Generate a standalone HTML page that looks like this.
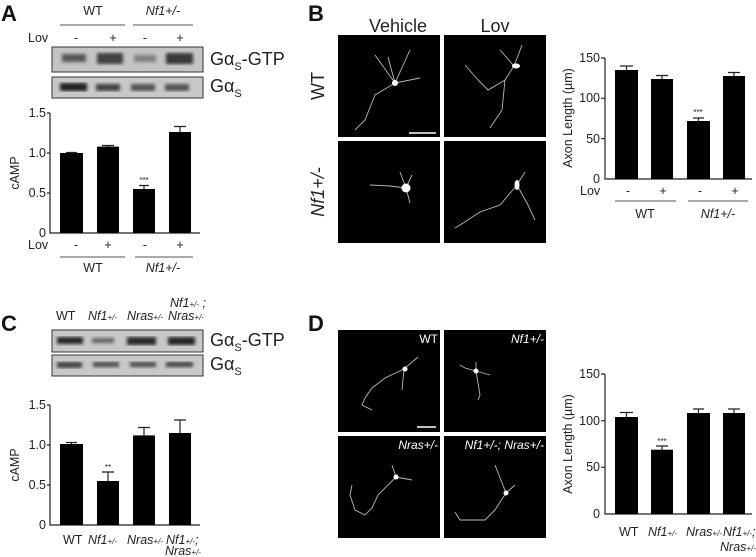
<!DOCTYPE html>
<html><head><meta charset="utf-8"><style>
html,body{margin:0;padding:0;background:#fff;}
svg{display:block;font-family:"Liberation Sans",Arial,sans-serif;}
.t{font-size:12.5px;fill:#222;}
.i{font-style:italic;}
.big{font-size:18px;fill:#222;}
.L{font-size:22px;font-weight:bold;fill:#111;}
.ax{stroke:#222;stroke-width:1.2;fill:none;}
.gl{stroke:#555;stroke-width:1;}
.n{stroke:#bbb;fill:none;stroke-width:0.9;}
</style></head><body>
<svg width="756" height="557" viewBox="0 0 756 557">
<defs><filter id="bl"><feGaussianBlur stdDeviation="1.6"/></filter></defs>
<!-- Panel A -->
<text class="L" x="1" y="21">A</text>
<text class="t" x="93" y="15" text-anchor="middle">WT</text>
<text class="t i" x="163" y="15" text-anchor="middle">Nf1+/-</text>
<line class="gl" x1="60" y1="25" x2="125" y2="25"/><line class="gl" x1="133" y1="25" x2="193" y2="25"/>
<text class="t" x="28" y="42">Lov</text>
<g class="t" text-anchor="middle"><text x="76" y="42">-</text><text x="113" y="42">+</text><text x="145" y="42">-</text><text x="180" y="42">+</text></g>
<rect x="52" y="47" width="151" height="25" fill="#c4c4c4" stroke="#333"/>
<g filter="url(#bl)" fill="#2a2a2a"><rect x="62" y="54" width="24" height="8" opacity=".7"/><rect x="97" y="53" width="26" height="11" opacity=".85"/><rect x="134" y="55" width="22" height="7" opacity=".45"/><rect x="166" y="53" width="27" height="11" opacity=".9"/></g>
<rect x="52" y="77" width="151" height="21" fill="#c8c8c8" stroke="#333"/>
<g filter="url(#bl)" fill="#222"><rect x="60" y="83" width="27" height="8"/><rect x="96" y="84" width="24" height="7" opacity=".8"/><rect x="131" y="84" width="24" height="7" opacity=".7"/><rect x="165" y="84" width="24" height="7" opacity=".7"/></g>
<text class="big" x="210" y="65">Gα<tspan font-size="11" dy="5">S</tspan><tspan dy="-5">-GTP</tspan></text>
<text class="big" x="210" y="92">Gα<tspan font-size="11" dy="5">S</tspan></text>
<text class="t" x="46" y="117" text-anchor="end">1.5</text><text class="t" x="46" y="157" text-anchor="end">1.0</text><text class="t" x="46" y="197" text-anchor="end">0.5</text><text class="t" x="46" y="237" text-anchor="end">0</text>
<path class="ax" d="M50 113V233H200M47 113H50M47 153H50M47 193H50"/>
<text class="t" transform="translate(19,173) rotate(-90)" text-anchor="middle">cAMP</text>
<g fill="#000"><rect x="60" y="153" width="23" height="80"/><rect x="97" y="146.6" width="22" height="86.4"/><rect x="133" y="189" width="22" height="44"/><rect x="169" y="132" width="22" height="101"/></g>
<path class="ax" d="M71.5 153V152.5M66 152.5H77M108 146.6V145.5M102 145.5H114M144 189V185.5M139 185.5H149M180 132V126.5M174 126.5H186"/>
<text x="144" y="183" font-size="8" text-anchor="middle" fill="#222">***</text>
<text class="t" x="28" y="249">Lov</text>
<g class="t" text-anchor="middle"><text x="76" y="249">-</text><text x="108" y="249">+</text><text x="145" y="249">-</text><text x="180" y="249">+</text></g>
<line class="gl" x1="60" y1="257" x2="125" y2="257"/><line class="gl" x1="135" y1="257" x2="193" y2="257"/>
<text class="t" x="93" y="272" text-anchor="middle">WT</text><text class="t i" x="163" y="272" text-anchor="middle">Nf1+/-</text>

<!-- Panel B -->
<text class="L" x="308" y="21">B</text>
<text class="big" x="398" y="32" text-anchor="middle" font-size="15">Vehicle</text>
<text class="big" x="495" y="32" text-anchor="middle" font-size="15">Lov</text>
<rect x="338" y="35" width="102" height="102" fill="#000"/><rect x="444" y="35" width="102" height="102" fill="#000"/>
<rect x="338" y="141" width="102" height="102" fill="#000"/><rect x="444" y="141" width="102" height="102" fill="#000"/>
<text class="big" transform="translate(324,86) rotate(-90)" text-anchor="middle" font-size="16">WT</text>
<text class="big i" transform="translate(324,192) rotate(-90)" text-anchor="middle" font-size="16">Nf1+/-</text>
<path class="n" d="M395 83L375 95L365 120L355 130M395 83L375 55M395 83L420 78M395 83L410 50M395 83L388 57"/><circle cx="395" cy="83" r="3" fill="#fff"/>
<line x1="409" y1="133" x2="436" y2="133" stroke="#fff" stroke-width="1.5"/>
<path class="n" d="M514 66L505 80L488 90L478 80L465 65M505 80L502 110L490 128M514 66L500 50M514 66L522 45"/><ellipse cx="516" cy="66" rx="4" ry="2.5" fill="#fff"/>
<path class="n" d="M406 188L390 186L370 185M406 188L412 175M406 188L410 203M406 188L400 172"/><circle cx="406" cy="188" r="4.5" fill="#fff"/>
<path class="n" d="M517 185L500 205L480 212L460 225L455 228M517 185L528 205L535 220M517 185L525 172"/><ellipse cx="517" cy="185" rx="2.5" ry="5" fill="#fff"/>
<text class="t" x="600" y="62" text-anchor="end">150</text><text class="t" x="600" y="102" text-anchor="end">100</text><text class="t" x="600" y="143" text-anchor="end">50</text><text class="t" x="600" y="183" text-anchor="end">0</text>
<path class="ax" d="M605 58V179H752M601 58H605M601 98.3H605M601 138.7H605"/>
<text class="t" font-size="13" transform="translate(572,118) rotate(-90)" text-anchor="middle">Axon Length (µm)</text>
<g fill="#000"><rect x="615" y="70" width="23" height="109"/><rect x="651" y="79" width="22" height="100"/><rect x="687" y="121" width="23" height="58"/><rect x="723" y="76" width="22" height="103"/></g>
<path class="ax" d="M626.5 70V66M620 66H633M662 79V75.5M656 75.5H668M698.5 121V118M693 118H704M734 76V72.5M728 72.5H740"/>
<text x="698" y="115" font-size="8" text-anchor="middle" fill="#222">***</text>
<text class="t" x="580" y="195">Lov</text>
<g class="t" text-anchor="middle"><text x="628" y="195">-</text><text x="663" y="195">+</text><text x="700" y="195">-</text><text x="735" y="195">+</text></g>
<line class="gl" x1="615" y1="201" x2="676" y2="201"/><line class="gl" x1="688" y1="201" x2="748" y2="201"/>
<text class="t" x="645" y="218" text-anchor="middle" font-size="13">WT</text><text class="t i" x="718" y="218" text-anchor="middle" font-size="13">Nf1+/-</text>

<!-- Panel C -->
<text class="L" x="1" y="331">C</text>
<text class="t i" x="170" y="307">Nf1<tspan font-size="8">+/-</tspan> ;</text>
<text class="t" x="56" y="320">WT</text>
<text class="t i" x="88" y="320">Nf1<tspan font-size="8">+/-</tspan></text>
<text class="t i" x="127" y="320">Nras<tspan font-size="8">+/-</tspan></text>
<text class="t i" x="168" y="320">Nras<tspan font-size="8">+/-</tspan></text>
<rect x="52" y="330" width="151" height="22" fill="#c8c8c8" stroke="#333"/>
<g filter="url(#bl)" fill="#1a1a1a"><rect x="57" y="337" width="26" height="7" opacity=".95"/><rect x="92" y="338" width="22" height="5" opacity=".6"/><rect x="127" y="337" width="29" height="8" opacity=".9"/><rect x="168" y="337" width="27" height="8" opacity=".95"/></g>
<rect x="52" y="355" width="151" height="21" fill="#c8c8c8" stroke="#333"/>
<g filter="url(#bl)" fill="#222"><rect x="57" y="362" width="25" height="6" opacity=".8"/><rect x="93" y="362" width="26" height="5" opacity=".75"/><rect x="130" y="362" width="26" height="5" opacity=".75"/><rect x="166" y="362" width="27" height="5" opacity=".8"/></g>
<text class="big" x="210" y="346">Gα<tspan font-size="11" dy="5">S</tspan><tspan dy="-5">-GTP</tspan></text>
<text class="big" x="210" y="370">Gα<tspan font-size="11" dy="5">S</tspan></text>
<text class="t" x="46" y="409" text-anchor="end">1.5</text><text class="t" x="46" y="449" text-anchor="end">1.0</text><text class="t" x="46" y="489" text-anchor="end">0.5</text><text class="t" x="46" y="529" text-anchor="end">0</text>
<path class="ax" d="M50 405V525H200M47 405H50M47 445H50M47 485H50"/>
<text class="t" transform="translate(19,465) rotate(-90)" text-anchor="middle">cAMP</text>
<g fill="#000"><rect x="60" y="444" width="23" height="81"/><rect x="97" y="481" width="22" height="44"/><rect x="133" y="435.4" width="22" height="89.6"/><rect x="169" y="433" width="22" height="92"/></g>
<path class="ax" d="M71.5 444V442.5M66 442.5H77M108 481V472M102 472H114M144 435.4V427.5M138 427.5H150M180 433V420M174 420H186"/>
<text x="108" y="470" font-size="8" text-anchor="middle" fill="#222">**</text>
<text class="t" x="63" y="544">WT</text>
<text class="t i" x="88" y="544">Nf1<tspan font-size="8">+/-</tspan></text>
<text class="t i" x="127" y="544">Nras<tspan font-size="8">+/-</tspan></text>
<text class="t i" x="166" y="544">Nf1<tspan font-size="8">+/-</tspan>;</text>
<text class="t i" x="165" y="555">Nras<tspan font-size="8">+/-</tspan></text>

<!-- Panel D -->
<text class="L" x="308" y="331">D</text>
<rect x="338" y="330" width="102" height="102" fill="#000"/><rect x="444" y="330" width="102" height="102" fill="#000"/>
<rect x="338" y="436" width="102" height="102" fill="#000"/><rect x="444" y="436" width="102" height="102" fill="#000"/>
<text x="438" y="343" text-anchor="end" font-size="12" fill="#fff">WT</text>
<text x="544" y="343" text-anchor="end" font-size="12" fill="#fff" font-style="italic">Nf1+/-</text>
<text x="438" y="449" text-anchor="end" font-size="12" fill="#fff" font-style="italic">Nras+/-</text>
<text x="544" y="449" text-anchor="end" font-size="12" fill="#fff" font-style="italic">Nf1+/-; Nras+/-</text>
<path class="n" d="M404 369L385 378L372 388L365 398L362 405L372 410M404 369L418 357M404 369L402 390"/><circle cx="405" cy="369" r="2.5" fill="#fff"/>
<line x1="417" y1="427" x2="436" y2="427" stroke="#fff" stroke-width="1.5"/>
<path class="n" d="M476 371L465 368L460 365M476 371L480 395L478 400M476 371L490 375M476 371L476 362"/><circle cx="476" cy="371" r="2.5" fill="#fff"/>
<path class="n" d="M396 477L378 495L372 508L365 515L355 510L350 495L352 485M396 477L412 480M396 477L392 465"/><circle cx="396" cy="477" r="2.5" fill="#fff"/>
<path class="n" d="M506 493L495 510L485 520L460 520L455 512M506 493L495 465M506 493L515 485"/><circle cx="506" cy="493" r="2.5" fill="#fff"/>
<text class="t" x="600" y="378" text-anchor="end">150</text><text class="t" x="600" y="425" text-anchor="end">100</text><text class="t" x="600" y="471" text-anchor="end">50</text><text class="t" x="600" y="518" text-anchor="end">0</text>
<path class="ax" d="M605 374V514H752M601 374H605M601 420.7H605M601 467.3H605"/>
<text class="t" font-size="13" transform="translate(572,444) rotate(-90)" text-anchor="middle">Axon Length (µm)</text>
<g fill="#000"><rect x="615" y="417" width="23" height="97"/><rect x="651" y="449.7" width="22" height="64.3"/><rect x="687" y="413" width="23" height="101"/><rect x="723" y="413" width="22" height="101"/></g>
<path class="ax" d="M626.5 417V412.5M620 412.5H633M662 449.7V446M656 446H668M698.5 413V409M693 409H704M734 413V409M728 409H740"/>
<text x="662" y="444" font-size="8" text-anchor="middle" fill="#222">***</text>
<text class="t" x="619" y="536" font-size="13">WT</text>
<text class="t i" x="648" y="536" font-size="13">Nf1<tspan font-size="8">+/-</tspan></text>
<text class="t i" x="686" y="536" font-size="13">Nras<tspan font-size="8">+/-</tspan></text>
<text class="t i" x="723" y="536" font-size="13">Nf1<tspan font-size="8">+/-</tspan>;</text>
<text class="t i" x="720" y="551" font-size="13">Nras<tspan font-size="8">+/-</tspan></text>
</svg>
</body></html>
